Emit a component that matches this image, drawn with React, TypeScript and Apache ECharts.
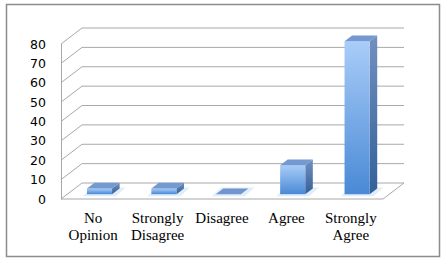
import React, { useEffect, useRef } from "react";
import * as echarts from "echarts";

const categories = ["No\nOpinion", "Strongly\nDisagree", "Disagree", "Agree", "Strongly\nAgree"];
const values = [3, 3, 0, 15, 79];
const yTicks = [0, 10, 20, 30, 40, 50, 60, 70, 80];

const DX = 21;
const DY = 16;
const FRONT = 0.3;
const BACK = 0.66;
const GRID_COLOR = "#a8a8a8";

export default function App() {
  const ref = useRef<HTMLDivElement>(null);
  useEffect(() => {
    document.body.style.margin = "0";
    const chart = echarts.init(ref.current!, null, { renderer: "svg" });

    const frameItem = (params: any, api: any) => {
      const cs = params.coordSys;
      const v = api.value(1);
      const y = api.coord([0, v])[1];
      const x0 = cs.x;
      const x1 = cs.x + cs.width;
      const style = { stroke: GRID_COLOR, lineWidth: 1, fill: "none" };
      const children: any[] = [
        { type: "line", shape: { x1: x0 + DX, y1: y - DY, x2: x1 + DX, y2: y - DY }, style },
        { type: "line", shape: { x1: x0, y1: y, x2: x0 + DX, y2: y - DY }, style },
      ];
      if (v === 0) {
        children.push({ type: "line", shape: { x1: x0, y1: y, x2: x1, y2: y }, style });
        children.push({ type: "line", shape: { x1: x1, y1: y, x2: x1 + DX, y2: y - DY }, style });
      }
      return { type: "group", children };
    };

    const barItem = (params: any, api: any) => {
      const i = api.value(0);
      const v = api.value(1);
      const base = api.coord([i, 0]);
      const top = api.coord([i, v]);
      const band = api.size([1, 0])[0];
      const w = band * 0.39;
      const L = base[0] - w / 2 + FRONT * DX;
      const R = L + w;
      const yb = base[1] - FRONT * DY;
      const yt = top[1] - FRONT * DY;
      const ddx = (BACK - FRONT) * DX;
      const ddy = (BACK - FRONT) * DY;
      const children: any[] = [];
      // floor glow
      children.push({
        type: "polygon",
        shape: { points: [[L - 4, yb + 2], [R + 4, yb + 2], [R + ddx + 6, yb - ddy - 1], [L + ddx - 2, yb - ddy - 1]] },
        style: { fill: "rgba(170,205,240,0.35)" },
      });
      if (v > 0) {
        children.push({
          type: "polygon",
          shape: { points: [[R, yt], [R + ddx, yt - ddy], [R + ddx, yb - ddy], [R, yb]] },
          style: {
            fill: new echarts.graphic.LinearGradient(0, 0, 0, 1, [
              { offset: 0, color: "#7290bf" },
              { offset: 1, color: "#33609a" },
            ]),
          },
        });
        children.push({
          type: "rect",
          shape: { x: L, y: yt, width: w, height: yb - yt },
          style: {
            fill: new echarts.graphic.LinearGradient(0, 0, 0, 1, [
              { offset: 0, color: "#a9cdf8" },
              { offset: 1, color: "#4a89d6" },
            ]),
          },
        });
      }
      children.push({
        type: "polygon",
        shape: { points: [[L, yt], [R, yt], [R + ddx, yt - ddy], [L + ddx, yt - ddy]] },
        style: { fill: v > 0 ? "#7499d0" : "#7096cd" },
      });
      return { type: "group", children };
    };

    chart.setOption({
      animation: false,
      backgroundColor: "#ffffff",
      grid: { left: 61, right: 64, top: 44, bottom: 64 },
      xAxis: {
        type: "category",
        data: categories,
        axisLine: { show: false },
        axisTick: { show: false },
        axisLabel: {
          interval: 0,
          margin: 10,
          fontFamily: "Liberation Serif",
          fontSize: 15,
          lineHeight: 17,
          color: "#000",
        },
      },
      yAxis: {
        type: "value",
        min: 0,
        max: 80,
        interval: 10,
        axisLine: { show: true, lineStyle: { color: GRID_COLOR, width: 1 } },
        axisTick: { show: false },
        splitLine: { show: false },
        axisLabel: {
          margin: 15,
          fontFamily: "DejaVu Sans",
          fontSize: 12.5,
          color: "#000",
        },
      },
      graphic: [
        {
          type: "rect",
          shape: { x: 6.5, y: 4.5, width: 433, height: 252 },
          style: { fill: "none", stroke: "#8c8c8c", lineWidth: 1.5 },
          silent: true,
        },
      ],
      series: [
        {
          type: "custom",
          name: "frame",
          z: 1,
          renderItem: frameItem,
          data: yTicks.map((t) => [0, t]),
          silent: true,
        },
        {
          type: "custom",
          name: "bars",
          z: 2,
          renderItem: barItem,
          data: values.map((v, i) => [i, v]),
        },
      ],
    });
    return () => chart.dispose();
  }, []);
  return <div ref={ref} style={{ width: 447, height: 263, background: "#fff" }} />;
}
